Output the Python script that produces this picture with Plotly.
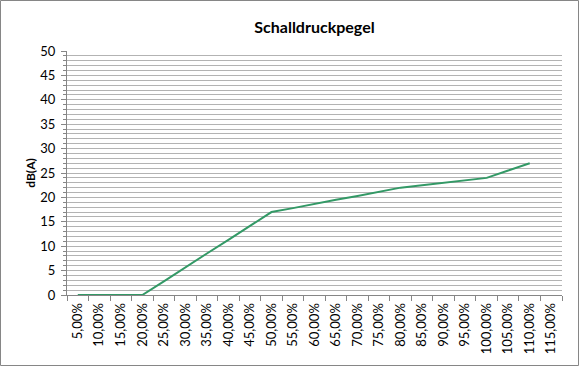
import plotly.graph_objects as go

categories = ["5,00%", "10,00%", "15,00%", "20,00%", "25,00%", "30,00%", "35,00%", "40,00%",
              "45,00%", "50,00%", "55,00%", "60,00%", "65,00%", "70,00%", "75,00%", "80,00%",
              "85,00%", "90,00%", "95,00%", "100,00%", "105,00%", "110,00%", "115,00%"]
values = [0, 0, 0, 0, 2.8, 5.7, 8.5, 11.3, 14.2, 17, 17.8, 18.7, 19.5, 20.3, 21.2, 22,
          22.5, 23, 23.5, 24, 25.5, 27, None]

W, H = 579, 366
L, R, T, B = 67, 17, 51, 71
pw, ph = W - L - R, H - T - B

fig = go.Figure()
fig.add_trace(go.Scatter(x=categories, y=values, mode="lines",
                         line=dict(color="#339966", width=2), connectgaps=False,
                         showlegend=False))

font = "Lato, 'Open Sans', sans-serif"
fig.update_layout(
    width=W, height=H,
    margin=dict(l=L, r=R, t=T, b=B),
    paper_bgcolor="white", plot_bgcolor="white",
    font=dict(family=font, size=13, color="black"),
    title=dict(text="<b>Schalldruckpegel</b>", x=0.5, xref="paper", y=1 - 27 / H,
               yanchor="middle", font=dict(size=16, family=font)),
    xaxis=dict(type="category", categoryorder="array", categoryarray=categories,
               range=[-0.5, len(categories) - 0.5], tickangle=-90,
               showgrid=False, showline=True, linecolor="#868686", linewidth=1,
               ticks="outside", ticklen=5, tickcolor="#868686", tickson="boundaries",
               tickfont=dict(size=13), zeroline=False, ticklabelstandoff=2),
    yaxis=dict(range=[0, 50], dtick=5, showgrid=True, gridcolor="#b3b3b3", gridwidth=1,
               showline=True, linecolor="#868686", linewidth=1,
               ticks="outside", ticklen=5, tickcolor="#868686", zeroline=False,
               tickfont=dict(size=13), ticklabelstandoff=3,
               minor=dict(dtick=1, showgrid=True, gridcolor="#b3b3b3", gridwidth=1,
                          ticks="outside", ticklen=3, tickcolor="#868686"),
               title=dict(text="<b>dB(A)</b>", font=dict(size=12), standoff=2)),
    shapes=[dict(type="rect", xref="paper", yref="paper",
                 x0=(0.5 - L) / pw, x1=(W - 0.5 - L) / pw,
                 y0=-(B - 0.5) / ph, y1=(ph + T - 0.5) / ph,
                 line=dict(color="#868686", width=1), fillcolor="rgba(0,0,0,0)", layer="below")],
)

fig.write_html("out.html", config={"displayModeBar": False},
               post_script="document.body.style.margin='0';document.body.style.padding='0';")
